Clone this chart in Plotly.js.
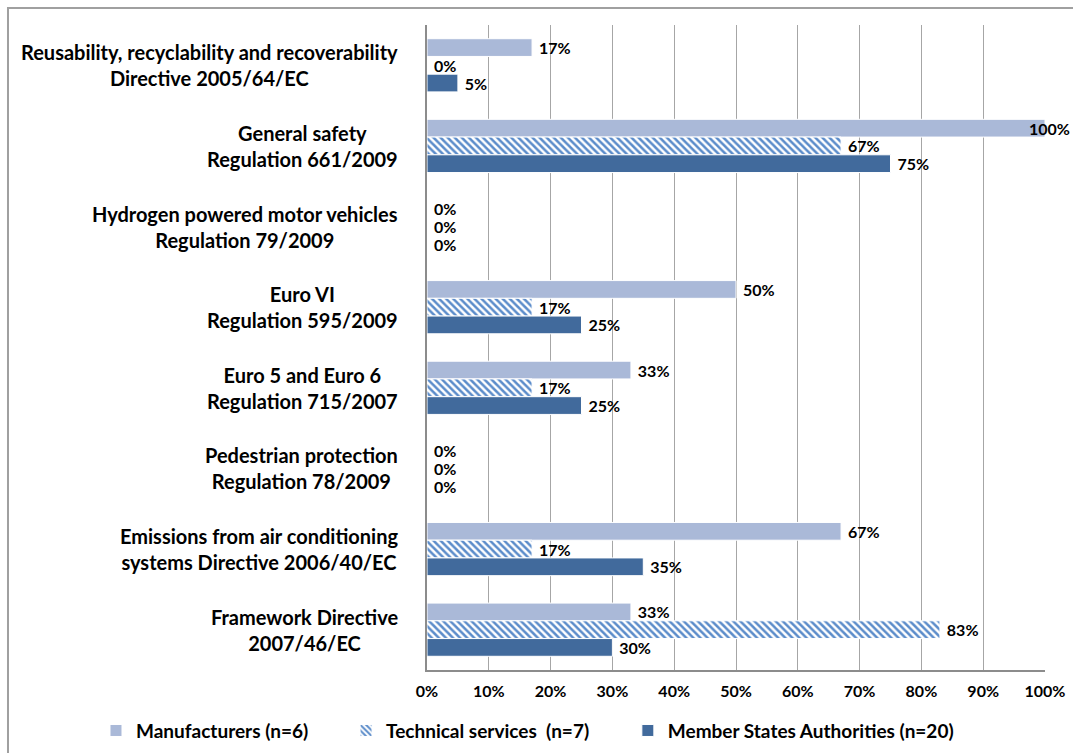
<!DOCTYPE html>
<html>
<head>
<meta charset="utf-8">
<script src="https://cdn.plot.ly/plotly-3.0.1.min.js"></script>
<style>
  html, body { margin: 0; padding: 0; background: #fff; }
  #chart { width: 1073px; height: 753px; }
</style>
</head>
<body>
<div id="chart"></div>
<script>
// Regulatory acts, top to bottom
const categories = [
  "Reusability, recyclability and recoverability<br>Directive 2005/64/EC",
  "General safety<br>Regulation 661/2009",
  "Hydrogen powered motor vehicles<br>Regulation 79/2009",
  "Euro VI<br>Regulation 595/2009",
  "Euro 5 and Euro 6<br>Regulation 715/2007",
  "Pedestrian protection<br>Regulation 78/2009",
  "Emissions from air conditioning<br>systems Directive 2006/40/EC",
  "Framework Directive<br>2007/46/EC"
];

// Share of respondents (%) per group
const manufacturers = [17, 100, 0, 50, 33, 0, 67, 33];
const technicalServices = [0, 67, 0, 17, 17, 0, 17, 83];
const memberStates = [5, 75, 0, 25, 25, 0, 35, 30];

const seriesNames = [
  "Manufacturers (n=6)",
  "Technical services  (n=7)",
  "Member States Authorities (n=20)"
];

const xTickVals = [0, 10, 20, 30, 40, 50, 60, 70, 80, 90, 100];
const xTickText = xTickVals.map(v => v + "%");

const FONT = "Lato, 'Open Sans', sans-serif";
const labelFont = { family: FONT, size: 16, color: "#000", weight: "bold" };

// Geometry used to place labels of bars that reach the right edge
const MARGIN = { l: 427, r: 28, t: 25, b: 83, autoexpand: false };
const HEIGHT = 753;
const BARGAP = 0.34;
const plotH = HEIGHT - MARGIN.t - MARGIN.b;
const barThick = plotH / categories.length * (1 - BARGAP) / 3;
const EDGE = 95;

const pct = v => "\u00a0" + v + "%";

function barTrace(name, values, marker, legendId) {
  return {
    type: "bar",
    orientation: "h",
    name: name,
    legend: legendId,
    y: categories,
    x: values,
    text: values.map(v => (v >= EDGE ? "" : pct(v))),
    textposition: "outside",
    textfont: labelFont,
    constraintext: "none",
    cliponaxis: false,
    hoverinfo: "skip",
    marker: marker
  };
}

const seriesValues = [manufacturers, technicalServices, memberStates];

const data = [
  barTrace(seriesNames[0], manufacturers, {
    color: "#aab9d8",
    line: { color: "#ffffff", width: 1 }
  }, "legend"),
  barTrace(seriesNames[1], technicalServices, {
    color: "#ffffff",
    line: { color: "#ffffff", width: 1 },
    pattern: { shape: "\\", fgcolor: "#5b8cca", bgcolor: "#ffffff", size: 5, solidity: 0.5 }
  }, "legend2"),
  barTrace(seriesNames[2], memberStates, {
    color: "#416a9c",
    line: { color: "#ffffff", width: 1 }
  }, "legend3")
];

// Category captions: right-aligned block, lines centred within it
const annotations = categories.map(c => ({
  xref: "paper", yref: "y",
  x: 0, y: c,
  xanchor: "right", yanchor: "middle",
  xshift: -27,
  align: "center",
  showarrow: false,
  text: c,
  font: { family: FONT, size: 20, color: "#000", weight: "bold" }
}));

// Value labels for bars ending at the right edge, pulled back over the bar end
seriesValues.forEach((vals, si) => {
  vals.forEach((v, ci) => {
    if (v >= EDGE) {
      annotations.push({
        xref: "x", yref: "y",
        x: v, y: categories[ci],
        xanchor: "right", yanchor: "middle",
        xshift: 27,
        yshift: (1 - si) * barThick,
        showarrow: false,
        text: v + "%",
        font: labelFont
      });
    }
  });
});

const legendBase = {
  orientation: "h",
  xanchor: "left",
  y: -0.094, yanchor: "middle",
  font: { family: FONT, size: 19, color: "#000", weight: "bold" },
  itemwidth: 30,
  bgcolor: "rgba(0,0,0,0)"
};

const layout = {
  width: 1073,
  height: HEIGHT,
  margin: MARGIN,
  paper_bgcolor: "#ffffff",
  plot_bgcolor: "#ffffff",
  barmode: "group",
  bargap: BARGAP,
  bargroupgap: 0,
  showlegend: true,
  legend: Object.assign({}, legendBase, { x: -0.5356 }),
  legend2: Object.assign({}, legendBase, { x: -0.131 }),
  legend3: Object.assign({}, legendBase, { x: 0.325 }),
  xaxis: {
    range: [0, 100],
    tickvals: xTickVals,
    ticktext: xTickText,
    tickfont: { family: FONT, size: 16, color: "#000", weight: "bold" },
    showgrid: true,
    gridcolor: "#a6a6a6",
    gridwidth: 1,
    showline: true,
    linecolor: "#8c8c8c",
    linewidth: 2,
    ticks: "",
    ticklabelstandoff: 6,
    zeroline: false,
    fixedrange: true
  },
  yaxis: {
    type: "category",
    autorange: "reversed",
    showticklabels: false,
    showgrid: false,
    showline: true,
    linecolor: "#8c8c8c",
    linewidth: 2,
    ticks: "",
    zeroline: false,
    fixedrange: true
  },
  annotations: annotations,
  shapes: [{
    type: "rect",
    xref: "paper", yref: "paper",
    x0: -0.678, x1: 1.2,
    y0: -0.3, y1: 1.0264,
    line: { color: "#a0a0a0", width: 2 },
    fillcolor: "rgba(0,0,0,0)",
    layer: "below"
  }]
};

Plotly.newPlot("chart", data, layout, { displayModeBar: false, staticPlot: true });
</script>
</body>
</html>
